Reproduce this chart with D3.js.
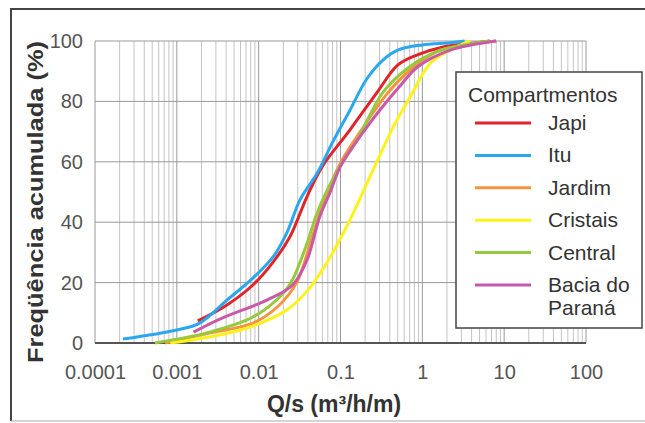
<!DOCTYPE html>
<html>
<head>
<meta charset="utf-8">
<script src="https://cdn.jsdelivr.net/npm/d3@7/dist/d3.min.js"></script>
<style>
body { margin: 0; background: #fff; }
svg { font-family: "Liberation Sans", Arial, sans-serif; display: block; }
</style>
</head>
<body>
<div id="chart"></div>
<script>
// Q/s (m3/h/m) vs cumulative frequency (%)
var japi = [[0.0018,7.3],[0.0041,12.6],[0.0085,19.2],[0.015,26.8],[0.024,35.1],[0.039,48.5],[0.06,58.5],[0.13,70.5],[0.28,83],[0.5,92],[0.87,95.4],[1.8,98],[4.2,99.3],[6.7,100]];
var itu = [[0.00022,1.3],[0.001,4.3],[0.0019,6.6],[0.0041,14.2],[0.0085,21.5],[0.015,28.5],[0.022,36.4],[0.032,47.4],[0.052,56.3],[0.082,67],[0.13,77],[0.21,87.5],[0.33,93.7],[0.5,97],[1.0,98.7],[2.2,99.4],[3.3,100]];
var jardim = [[0.00072,0],[0.0025,3.3],[0.0085,6.6],[0.017,12],[0.029,19.9],[0.045,35],[0.061,46],[0.1,59.6],[0.17,69.5],[0.37,82.5],[0.71,90.4],[1.5,96.5],[3,98.5],[8,100]];
var cristais = [[0.00083,0],[0.0025,2],[0.0079,5.3],[0.022,10.9],[0.04,17.5],[0.075,28.5],[0.13,40.7],[0.17,47.4],[0.25,57.3],[0.44,71.5],[0.71,81.5],[1.26,92.7],[2.2,97],[3.8,100]];
var central = [[0.00054,0],[0.0025,3.6],[0.0085,8.6],[0.02,16.5],[0.026,21],[0.039,33],[0.05,42],[0.069,50.7],[0.098,58.3],[0.16,67.2],[0.33,83],[0.7,91.5],[1.5,96.5],[3,98.5],[6.7,100]];
var bacia = [[0.0016,3.6],[0.0034,8],[0.0126,14.2],[0.026,19.2],[0.039,27.5],[0.056,42],[0.075,50],[0.1,58.5],[0.21,71.5],[0.3,77],[0.53,85],[0.87,91.4],[2.2,97],[8,100]];

var names = ["Japi", "Itu", "Jardim", "Cristais", "Central", "Bacia do|Paraná"];
var colors = ["#e0242a", "#2aa7ee", "#f7933d", "#fff21c", "#97c93c", "#c95aa8"];
var xTicks = [0.0001, 0.001, 0.01, 0.1, 1, 10, 100];
var xTickLabels = ["0.0001", "0.001", "0.01", "0.1", "1", "10", "100"];
var yTicks = [0, 20, 40, 60, 80, 100];

var allSeries = [japi, itu, jardim, cristais, central, bacia];

var W = 645, H = 423;
var margin = {left: 95, top: 41, right: 59, bottom: 80};
var width = W - margin.left - margin.right;
var height = H - margin.top - margin.bottom;

var svg = d3.select("#chart").append("svg")
	.attr("width", W)
	.attr("height", H);

// outer frame
svg.append("line").attr("x1", 11).attr("y1", 9).attr("x2", W).attr("y2", 9)
	.attr("stroke", "#444").attr("stroke-width", 2);
svg.append("line").attr("x1", 11).attr("y1", 8).attr("x2", 11).attr("y2", 421)
	.attr("stroke", "#444").attr("stroke-width", 2);
svg.append("line").attr("x1", 11).attr("y1", 421).attr("x2", W).attr("y2", 421)
	.attr("stroke", "#aaa").attr("stroke-width", 1);

var g = svg.append("g")
	.attr("transform", "translate(" + margin.left + "," + margin.top + ")");

var x = d3.scaleLog().domain([0.0001, 100]).range([0, width]);
var y = d3.scaleLinear().domain([0, 100]).range([height, 0]);

// minor grid
var minor = [];
for (var e = -4; e < 2; e++) {
	for (var k = 2; k < 10; k++) minor.push(k * Math.pow(10, e));
}
g.append("g").selectAll("line").data(minor).enter().append("line")
	.attr("x1", function(d) { return x(d); })
	.attr("x2", function(d) { return x(d); })
	.attr("y1", 0).attr("y2", height)
	.attr("stroke", "#c4c4c4").attr("stroke-width", 1);

// major grid
g.append("g").selectAll("line").data(xTicks).enter().append("line")
	.attr("x1", function(d) { return x(d); })
	.attr("x2", function(d) { return x(d); })
	.attr("y1", 0).attr("y2", height)
	.attr("stroke", "#999").attr("stroke-width", 1);
g.append("g").selectAll("line").data(yTicks).enter().append("line")
	.attr("x1", 0).attr("x2", width)
	.attr("y1", function(d) { return y(d); })
	.attr("y2", function(d) { return y(d); })
	.attr("stroke", "#999").attr("stroke-width", 1);

// bottom axis
g.append("line").attr("x1", 0).attr("x2", width).attr("y1", height).attr("y2", height)
	.attr("stroke", "#555").attr("stroke-width", 2);

var xAxis = d3.axisBottom(x)
	.tickValues(xTicks)
	.tickFormat(function(d, i) { return xTickLabels[i]; })
	.tickSize(0)
	.tickPadding(22);
var gx = g.append("g")
	.attr("transform", "translate(0," + height + ")")
	.call(xAxis);
gx.select(".domain").remove();
gx.selectAll("text").attr("font-size", 20).attr("fill", "#555").attr("font-family", "Liberation Sans, Arial, sans-serif");

var yAxis = d3.axisLeft(y)
	.tickValues(yTicks)
	.tickSize(0)
	.tickPadding(12);
var gy = g.append("g").call(yAxis);
gy.select(".domain").remove();
gy.selectAll("text").attr("font-size", 20).attr("fill", "#555").attr("font-family", "Liberation Sans, Arial, sans-serif");

// curves
var line = d3.line()
	.x(function(d) { return x(d[0]); })
	.y(function(d) { return y(d[1]); })
	.curve(d3.curveCatmullRom.alpha(0.5));

g.append("g").selectAll("path").data(allSeries).enter().append("path")
	.attr("d", line)
	.attr("fill", "none")
	.attr("stroke", function(d, i) { return colors[i]; })
	.attr("stroke-width", 3)
	.attr("stroke-linejoin", "round");

// axis titles
svg.append("text")
	.attr("x", 334).attr("y", 412)
	.attr("text-anchor", "middle")
	.attr("font-size", 23).attr("font-weight", "bold").attr("fill", "#333")
	.text("Q/s (m³/h/m)");

svg.append("text")
	.attr("transform", "translate(43,202) rotate(-90)")
	.attr("text-anchor", "middle")
	.attr("font-size", 22).attr("font-weight", "bold").attr("fill", "#333")
	.attr("textLength", 322).attr("lengthAdjust", "spacingAndGlyphs")
	.text("Freqüência acumulada (%)");

// legend
var leg = svg.append("g");
leg.append("rect")
	.attr("x", 456).attr("y", 72).attr("width", 186).attr("height", 256)
	.attr("fill", "#fff").attr("stroke", "#444").attr("stroke-width", 1.5);
leg.append("text")
	.attr("x", 468).attr("y", 102)
	.attr("font-size", 21).attr("fill", "#333")
	.text("Compartmentos");

var rows = leg.selectAll("g.item").data(names).enter().append("g")
	.attr("class", "item")
	.attr("transform", function(d, i) { return "translate(0," + (123 + i * 32.4) + ")"; });
rows.append("line")
	.attr("x1", 475).attr("x2", 531)
	.attr("stroke", function(d, i) { return colors[i]; })
	.attr("stroke-width", 3);
rows.each(function(d) {
	var parts = d.split("|");
	var t = d3.select(this).append("text")
		.attr("x", 548).attr("y", 7)
		.attr("font-size", 21).attr("fill", "#333");
	parts.forEach(function(p, j) {
		t.append("tspan").attr("x", 548).attr("dy", j === 0 ? 0 : 23).text(p);
	});
});
</script>
</body>
</html>
